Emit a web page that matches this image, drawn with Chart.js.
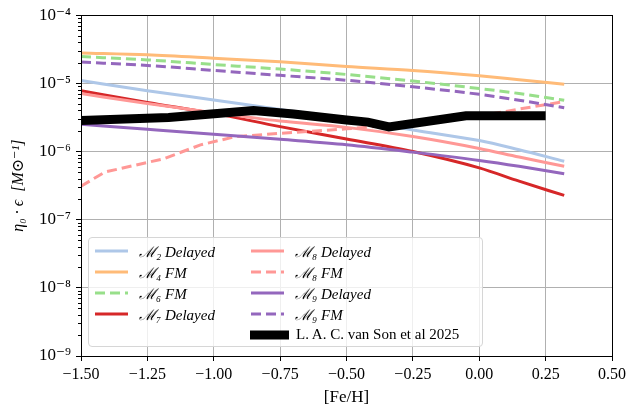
<!DOCTYPE html>
<html>
<head>
<meta charset="utf-8">
<script src="https://cdn.jsdelivr.net/npm/chart.js@4.4.1/dist/chart.umd.min.js"></script>
<style>
  body { margin: 0; background: #fff; }
  #wrap { position: relative; width: 630px; height: 411px; }
  #legend {
    position: absolute; left: 88px; top: 237px; width: 395px; height: 110px;
    box-sizing: border-box; border: 1px solid #d6d6d6; border-radius: 4px;
    background: rgba(255, 255, 255, 0.8);
    font-family: 'Liberation Serif', serif; font-size: 15px; color: #000;
  }
  .item { position: absolute; height: 20px; display: flex; align-items: center; white-space: nowrap; }
  .item i { font-style: italic; }
</style>
</head>
<body>
<div id="wrap">
  <canvas id="c" width="630" height="411"></canvas>
  <div id="legend"></div>
</div>
<script>
// x grid of the model curves
const fehModel = [-1.5, -1.25, -1.0, -0.75, -0.5, -0.25, 0.0, 0.15, 0.32];

// model curves (eta_0 * epsilon, per Msun)
const m2Delayed = [1.10e-5, 7.8e-6, 5.7e-6, 4.15e-6, 3.05e-6, 2.07e-6, 1.45e-6, 1.06e-6, 7.2e-7];
const m4FM      = [2.80e-5, 2.62e-5, 2.34e-5, 2.07e-5, 1.77e-5, 1.55e-5, 1.29e-5, 1.13e-5, 9.7e-6];
const m6FM      = [2.47e-5, 2.21e-5, 1.89e-5, 1.62e-5, 1.35e-5, 1.08e-5, 8.4e-6, 7.1e-6, 5.66e-6];
const m7Delayed = [7.8e-6, 5.25e-6, 3.63e-6, 2.32e-6, 1.53e-6, 1.0e-6, 5.75e-7, 3.67e-7, 2.27e-7];
const m8Delayed = [7.08e-6, 5.07e-6, 3.72e-6, 2.80e-6, 2.26e-6, 1.66e-6, 1.11e-6, 8.3e-7, 6.07e-7];
const m9Delayed = [2.51e-6, 2.12e-6, 1.79e-6, 1.51e-6, 1.26e-6, 9.8e-7, 7.4e-7, 6.07e-7, 4.73e-7];
const m9FM      = [2.05e-5, 1.83e-5, 1.55e-5, 1.31e-5, 1.11e-5, 8.9e-6, 6.9e-6, 5.66e-6, 4.39e-6];

// M8 FM has its own, rougher sampling
const fehM8FM = [-1.5, -1.41, -1.19, -1.05, -0.92, -0.75, -0.5, -0.25, 0.0, 0.15, 0.32];
const m8FM    = [3.1e-7, 5.0e-7, 7.8e-7, 1.25e-6, 1.65e-6, 1.85e-6, 2.15e-6, 2.6e-6, 3.3e-6, 4.2e-6, 5.4e-6];

// van Son et al 2025
const fehVanSon = [-1.5, -1.17, -0.85, -0.7, -0.5, -0.42, -0.34, -0.05, 0.25];
const vanSon    = [2.85e-6, 3.15e-6, 4.0e-6, 3.55e-6, 2.9e-6, 2.7e-6, 2.3e-6, 3.35e-6, 3.35e-6];

const xTicks = [-1.5, -1.25, -1.0, -0.75, -0.5, -0.25, 0.0, 0.25, 0.5];
const yTicks = [1e-9, 1e-8, 1e-7, 1e-6, 1e-5, 1e-4];

const FONT = "'Liberation Serif', 'DejaVu Serif', serif";

function pts(xs, ys) {
    return xs.map((x, i) => ({ x: x, y: ys[i] }));
}

// plot order = matplotlib order, later ones on top
const series = [
    { label: 'ℳ₂ Delayed', data: pts(fehModel, m2Delayed), color: '#aec7e8', width: 3, dash: [], smooth: true, col: 0, row: 0 },
    { label: 'ℳ₄ FM', data: pts(fehModel, m4FM), color: '#ffbb78', width: 3, dash: [], smooth: true, col: 0, row: 1 },
    { label: 'ℳ₆ FM', data: pts(fehModel, m6FM), color: '#98df8a', width: 3, dash: [10, 5], smooth: true, col: 0, row: 2 },
    { label: 'ℳ₇ Delayed', data: pts(fehModel, m7Delayed), color: '#d62728', width: 3, dash: [], smooth: true, col: 0, row: 3 },
    { label: 'ℳ₈ Delayed', data: pts(fehModel, m8Delayed), color: '#ff9896', width: 3, dash: [], smooth: true, col: 1, row: 0 },
    { label: 'ℳ₈ FM', data: pts(fehM8FM, m8FM), color: '#ff9896', width: 3, dash: [10, 5], smooth: false, col: 1, row: 1 },
    { label: 'ℳ₉ Delayed', data: pts(fehModel, m9Delayed), color: '#9467bd', width: 3, dash: [], smooth: true, col: 1, row: 2 },
    { label: 'ℳ₉ FM', data: pts(fehModel, m9FM), color: '#9467bd', width: 3, dash: [10, 5], smooth: true, col: 1, row: 3 },
    { label: 'L. A. C. van Son et al 2025', data: pts(fehVanSon, vanSon), color: '#000000', width: 9, dash: [], smooth: false, col: 1, row: 4, plain: true }
];

const SUP = { '-': '⁻', '0': '⁰', '1': '¹', '2': '²', '3': '³', '4': '⁴', '5': '⁵', '6': '⁶', '7': '⁷', '8': '⁸', '9': '⁹' };
function sup(n) {
    return String(n).split('').map(ch => SUP[ch]).join('');
}

// frame round the axes + minor log ticks on the y axis
const framePlugin = {
    id: 'frame',
    afterDatasetsDraw(chart) {
        const a = chart.chartArea;
        const ctx = chart.ctx;
        const ys = chart.scales.y;
        ctx.save();
        ctx.strokeStyle = '#000';
        ctx.lineWidth = 1;
        ctx.beginPath();
        for (let d = -9; d < -4; d++) {
            for (let k = 2; k <= 9; k++) {
                const py = Math.round(ys.getPixelForValue(k * Math.pow(10, d))) + 0.5;
                ctx.moveTo(a.left - 3, py);
                ctx.lineTo(a.left, py);
            }
        }
        ctx.stroke();
        ctx.strokeRect(Math.round(a.left) + 0.5, Math.round(a.top) + 0.5,
            Math.round(a.right - a.left), Math.round(a.bottom - a.top));
        ctx.restore();
    }
};

const chart = new Chart(document.getElementById('c'), {
    type: 'line',
    data: {
        datasets: series.map((s, i) => ({
            label: s.label,
            data: s.data,
            borderColor: s.color,
            backgroundColor: s.color,
            borderWidth: s.width,
            borderDash: s.dash,
            borderCapStyle: 'butt',
            pointRadius: 0,
            fill: false,
            cubicInterpolationMode: s.smooth ? 'monotone' : 'default',
            tension: 0,
            order: series.length - i
        }))
    },
    options: {
        responsive: false,
        animation: false,
        layout: { padding: { left: 0, top: 9, right: 16, bottom: 0 } },
        plugins: { legend: { display: false }, tooltip: { enabled: false } },
        scales: {
            x: {
                type: 'linear',
                min: -1.5,
                max: 0.5,
                afterBuildTicks: s => { s.ticks = xTicks.map(v => ({ value: v })); },
                afterFit: s => { s.height = 55; },
                ticks: {
                    callback: v => (v < 0 ? '−' : '') + Math.abs(v).toFixed(2),
                    font: { family: FONT, size: 16 },
                    color: '#000',
                    maxRotation: 0,
                    autoSkip: false,
                    padding: 4
                },
                grid: { color: '#b0b0b0', lineWidth: 1, tickColor: '#000', tickLength: 5 },
                border: { display: true, color: '#000', width: 1 },
                title: {
                    display: true, text: '[Fe/H]', color: '#000',
                    font: { family: FONT, size: 17 },
                    padding: { top: 0, bottom: 3 }
                }
            },
            y: {
                type: 'logarithmic',
                min: 1e-9,
                max: 1e-4,
                afterBuildTicks: s => { s.ticks = yTicks.map(v => ({ value: v, major: true })); },
                afterFit: s => { s.width = 81; },
                ticks: {
                    callback: v => '10' + sup(Math.round(Math.log10(v))),
                    font: { family: FONT, size: 17 },
                    color: '#000',
                    padding: 5
                },
                grid: { color: '#b0b0b0', lineWidth: 1, tickColor: '#000', tickLength: 5 },
                border: { display: true, color: '#000', width: 1 },
                title: {
                    display: true, text: 'η₀ · ϵ  [M⊙⁻¹]', color: '#000',
                    font: { family: FONT, size: 16, style: 'italic' },
                    padding: { top: 9, bottom: 0 }
                }
            }
        }
    },
    plugins: [framePlugin]
});

// legend in two columns, drawn from the dataset list
const legend = document.getElementById('legend');
series.forEach(s => {
    const item = document.createElement('div');
    item.className = 'item';
    const wide = s.width > 5;
    const hx = s.col === 0 ? 6 : (wide ? 161 : 162);
    item.style.left = hx + 'px';
    item.style.top = (3.4 + s.row * 20.8) + 'px';
    const w = wide ? 39 : 33;
    const svg = `<svg width="${w}" height="12" style="margin-right:${wide ? 7 : 11}px">` +
        `<line x1="0" y1="6" x2="${w}" y2="6" stroke="${s.color}" stroke-width="${s.width}"` +
        (s.dash.length ? ` stroke-dasharray="${s.dash.join(',')}"` : '') + `/></svg>`;
    const text = s.plain ? s.label : '<i>' + s.label + '</i>';
    item.innerHTML = svg + '<span>' + text + '</span>';
    legend.appendChild(item);
});
</script>
</body>
</html>
